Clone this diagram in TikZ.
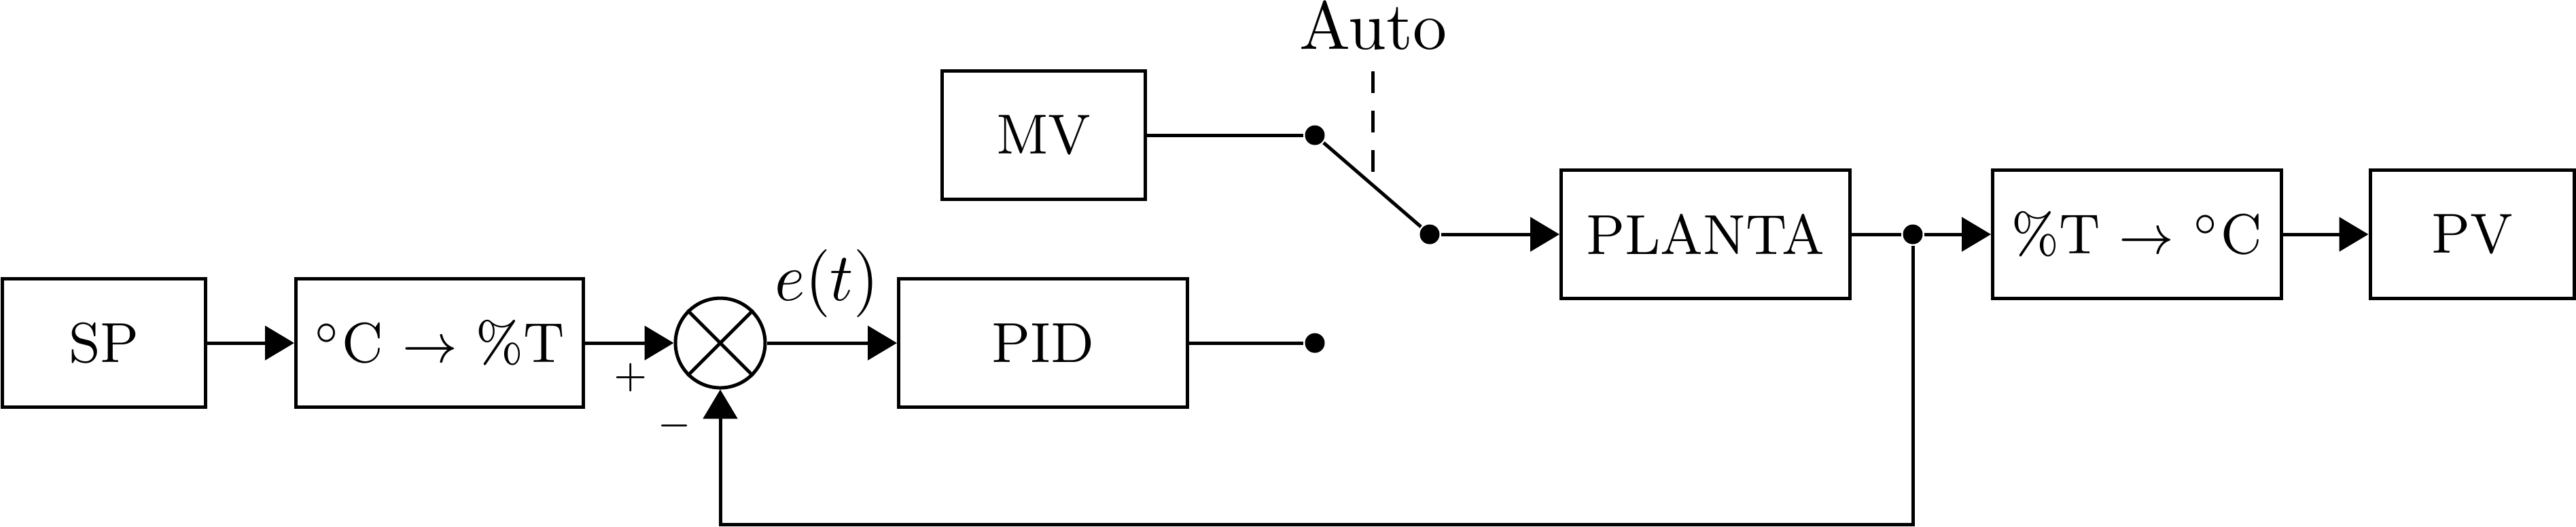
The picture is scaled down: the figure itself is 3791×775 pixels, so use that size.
\documentclass[tikz,border=0pt]{standalone}
\usetikzlibrary{arrows.meta}
\newcommand{\sq}[1]{\scalebox{0.95}[1]{#1}}
\begin{document}
\begin{tikzpicture}[x=0.1pt,y=-0.1pt,
 line width=0.5pt,
 blk/.style={draw, line width=0.5pt, minimum height=18.9pt, inner sep=0pt, font=\fontsize{8.3}{10}\selectfont},
 sig/.style={-{Triangle[length=4.3pt,width=5pt]}},
 dotc/.style={circle, fill, inner sep=0pt, minimum size=2.9pt},
 lbl/.style={font=\fontsize{10}{12}\selectfont, inner sep=0pt},
 sgn/.style={font=\fontsize{5.4}{6}\selectfont, inner sep=0pt}]
\useasboundingbox (0,0) rectangle (3791,775);
% blocks
\node[blk, minimum width=30pt] (sp) at (153,505) {\sq{SP}};
\node[blk, minimum width=42.3pt] (c2t) at (647,505) {\sq{$^\circ$C $\rightarrow$ \%T}};
\node[draw, circle, minimum size=13.2pt, inner sep=0pt] (sum) at (1060,505) {};
\draw (sum.45) -- (sum.225) (sum.135) -- (sum.315);
\node[blk, minimum width=42.5pt] (pid) at (1535,505) {\sq{PID}};
\node[blk, minimum width=30pt] (mv) at (1536,199) {\sq{MV}};
\node[blk, minimum width=42.5pt] (planta) at (2510,345) {\sq{PLANTA}};
\node[blk, minimum width=42.5pt] (t2c) at (3145,345) {\sq{\%T $\rightarrow$ $^\circ$C}};
\node[blk, minimum width=30pt] (pv) at (3638,345) {\sq{PV}};
% dots and coordinates
\node[dotc] (pd) at (1935,505) {};
\node[dotc] (md) at (1935,199) {};
\node[dotc] (sd) at (2104,345) {};
\node[dotc] (bd) at (2815,345) {};
\coordinate (fb1) at (2815,772);
\coordinate (fb2) at (1060,772);
\coordinate (da) at (2020,105);
\coordinate (db) at (2020,257);
% connectors
\draw[sig] (sp) -- (c2t);
\draw[sig] (c2t) -- (sum);
\draw[sig] (sum) -- (pid);
\draw (pid) -- (pd);
\draw (mv) -- (md);
\draw (md) -- (sd);
\draw[sig] (sd) -- (planta);
\draw (planta) -- (bd);
\draw[sig] (bd) -- (t2c);
\draw[sig] (t2c) -- (pv);
\draw[sig] (bd) -- (fb1) -- (fb2) -- (sum);
\draw[dash pattern=on 3.2pt off 2.6pt] (da) -- (db);
% labels
\node[lbl, anchor=base] (auto) at (2021,72) {Auto};
\node[lbl] (et) at (1217,417) {\sq{$e(t)$}};
\node[sgn] (plus) at (928,556) {$+$};
\node[sgn] (minus) at (993,627) {$-$};
\end{tikzpicture}
\end{document}
